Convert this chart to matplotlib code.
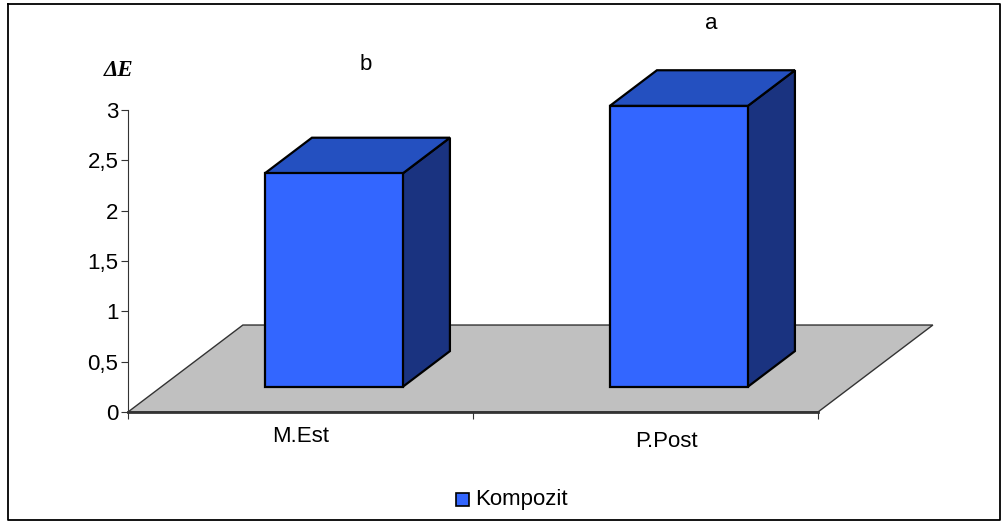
import matplotlib.pyplot as plt
from matplotlib.patches import Polygon, Rectangle
from matplotlib.lines import Line2D

# Colour difference per group
groups = ['M.Est', 'P.Post']
delta_e = [2.12, 2.79]
letters = ['b', 'a']
series_name = 'Kompozit'
yticks = [0, 0.5, 1, 1.5, 2, 2.5, 3]
ytick_labels = ['0', '0,5', '1', '1,5', '2', '2,5', '3']

plt.rcParams['font.family'] = ['Liberation Sans', 'DejaVu Sans']

FRONT = '#3366FF'
TOP = '#2450C0'
SIDE = '#1A3380'
FS = 16

fig = plt.figure(figsize=(10.07, 5.22), dpi=100)
W, H = 1007, 522
ax = fig.add_axes([128 / W, 110 / H, 690 / W, 302 / H])
ax.set_xlim(0, 2)
ax.set_ylim(0, 3)
for s in ['top', 'right']:
    ax.spines[s].set_visible(False)
ax.spines['left'].set_color('#333333')
ax.spines['bottom'].set_color('#333333')
ax.spines['bottom'].set_linewidth(2)

# oblique depth of the floor in data units
DX, DY = 0.333, 0.864
d0, d1 = 0.29, 0.70   # bar depth (fraction of floor depth)
bw = 0.4              # bar width (fraction of category)

floor = Polygon([(0, 0), (2, 0), (2 + DX, DY), (DX, DY)], closed=True,
                facecolor='#C0C0C0', edgecolor='#333333', lw=1, clip_on=False, zorder=1)
ax.add_patch(floor)

for i, v in enumerate(delta_e):
    x0 = i + 0.5 - bw / 2
    x1 = i + 0.5 + bw / 2
    fx, fy = d0 * DX, d0 * DY
    bx, by = d1 * DX, d1 * DY
    kw = dict(closed=True, edgecolor='black', lw=1.6, clip_on=False, zorder=3, joinstyle='miter')
    # right side
    ax.add_patch(Polygon([(x1 + fx, fy), (x1 + bx, by), (x1 + bx, v + by), (x1 + fx, v + fy)],
                         facecolor=SIDE, **kw))
    # top
    ax.add_patch(Polygon([(x0 + fx, v + fy), (x1 + fx, v + fy), (x1 + bx, v + by), (x0 + bx, v + by)],
                         facecolor=TOP, **kw))
    # front
    ax.add_patch(Polygon([(x0 + fx, fy), (x1 + fx, fy), (x1 + fx, v + fy), (x0 + fx, v + fy)],
                         facecolor=FRONT, **kw))

ax.set_yticks(yticks)
ax.set_yticklabels(ytick_labels, fontsize=FS)
ax.tick_params(axis='y', length=5, color='#333333', pad=2)
ax.set_xticks([0, 1, 2])
ax.set_xticklabels([])
ax.tick_params(axis='x', length=5, color='#333333')

label_pos = [(0.5, -0.24), (1.56, -0.29)]
for name, (lx, ly) in zip(groups, label_pos):
    ax.text(lx, ly, name, ha='center', va='center', fontsize=FS, clip_on=False)

# significance letters above the bars
letter_pos = [(0.69, 3.45), (1.69, 3.86)]
for t, (lx, ly) in zip(letters, letter_pos):
    ax.text(lx, ly, t, ha='center', va='center', fontsize=FS, clip_on=False)

fig.text(119 / W, 1 - 70 / H, 'ΔE', ha='center', va='center', fontsize=16.5,
         fontweight='bold', fontstyle='italic', family=['Liberation Serif', 'DejaVu Serif'])

# legend
fig.patches.append(Rectangle((456 / W, 1 - 506 / H), 13 / W, 13 / H, transform=fig.transFigure,
                             facecolor=FRONT, edgecolor='black', lw=1.2))
fig.text(475 / W, 1 - 499 / H, series_name, ha='left', va='center', fontsize=FS)

# chart border
fig.lines.append(Line2D([8 / W, 1000 / W, 1000 / W, 8 / W, 8 / W],
                        [1 - 4 / H, 1 - 4 / H, 1 - 520 / H, 1 - 520 / H, 1 - 4 / H],
                        transform=fig.transFigure, color='black', lw=1.3))

fig.savefig('out.png', dpi=100)
